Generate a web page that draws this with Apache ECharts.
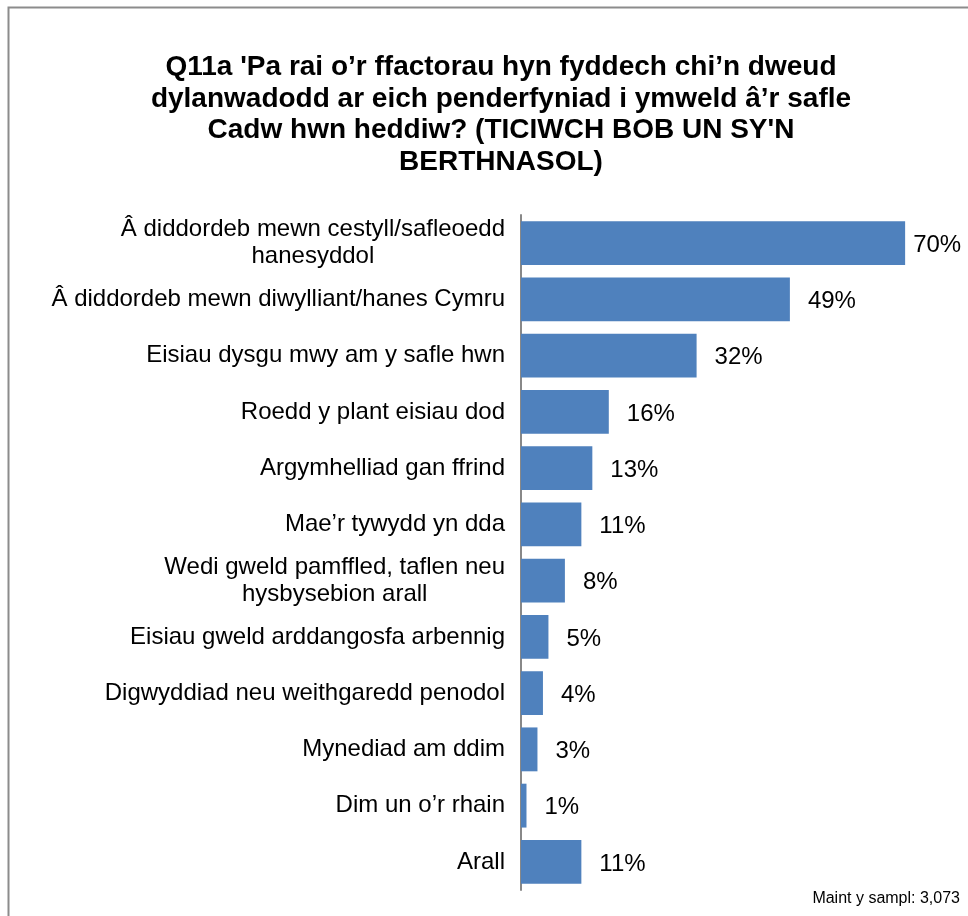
<!DOCTYPE html>
<html>
<head>
<meta charset="utf-8">
<script src="https://cdn.jsdelivr.net/npm/echarts@6/dist/echarts.min.js"></script>
<style>html,body{margin:0;padding:0;background:#fff;}#c{width:968px;height:916px;}</style>
</head>
<body>
<div id="c"></div>
<script>
const titleText = "Q11a 'Pa rai o’r ffactorau hyn fyddech chi’n dweud\ndylanwadodd ar eich penderfyniad i ymweld â’r safle\nCadw hwn heddiw? (TICIWCH BOB UN SY'N\nBERTHNASOL)";
const categories = [
  "Â diddordeb mewn cestyll/safleoedd\nhanesyddol",
  "Â diddordeb mewn diwylliant/hanes Cymru",
  "Eisiau dysgu mwy am y safle hwn",
  "Roedd y plant eisiau dod",
  "Argymhelliad gan ffrind",
  "Mae’r tywydd yn dda",
  "Wedi gweld pamffled, taflen neu\nhysbysebion arall",
  "Eisiau gweld arddangosfa arbennig",
  "Digwyddiad neu weithgaredd penodol",
  "Mynediad am ddim",
  "Dim un o’r rhain",
  "Arall"
];
const values = [70, 49, 32, 16, 13, 11, 8, 5, 4, 3, 1, 11];
const footnote = "Maint y sampl: 3,073";

const chart = echarts.init(document.getElementById('c'), null, {renderer: 'canvas'});
chart.setOption({
  animation: false,
  backgroundColor: '#fff',
  textStyle: {fontFamily: '"Liberation Sans", Arial, sans-serif'},
  graphic: [
    {type: 'rect', shape: {x: 8.5, y: 7.5, width: 1200, height: 1200},
     style: {fill: 'none', stroke: '#8c8c8c', lineWidth: 2}, silent: true, z: 0},
    {type: 'text', right: 8, top: 891,
     style: {text: footnote, font: '16px "Liberation Sans", Arial, sans-serif', fill: '#000'}}
  ],
  title: {
    text: titleText,
    left: 496, top: 47, textAlign: 'center',
    textStyle: {fontSize: 28, fontWeight: 'bold', color: '#000', lineHeight: 31.5,
      fontFamily: '"Liberation Sans", Arial, sans-serif'}
  },
  grid: {left: 521, right: 8, top: 215, bottom: 26, containLabel: false},
  xAxis: {type: 'value', min: 0, max: 80, show: false},
  yAxis: {
    type: 'category', data: categories, inverse: true,
    axisLine: {show: true, lineStyle: {color: '#888', width: 2}},
    axisTick: {show: false},
    axisLabel: {
      margin: 16, color: '#000', fontSize: 24, lineHeight: 27,
      formatter: v => v.split('\n').map(l => '{c|' + l + '}').join('\n'),
      rich: {c: {align: 'center', fontSize: 24, lineHeight: 27, color: '#000'}}
    }
  },
  series: [{
    type: 'bar',
    barWidth: '78%',
    data: values.map((v, i) => ({value: v, label: {distance: i === 0 ? 8 : 18}})),
    itemStyle: {color: '#4F81BD'},
    label: {show: true, position: 'right', formatter: '{c}%', fontSize: 24, color: '#000', offset: [0, 2]}
  }]
});
</script>
</body>
</html>
